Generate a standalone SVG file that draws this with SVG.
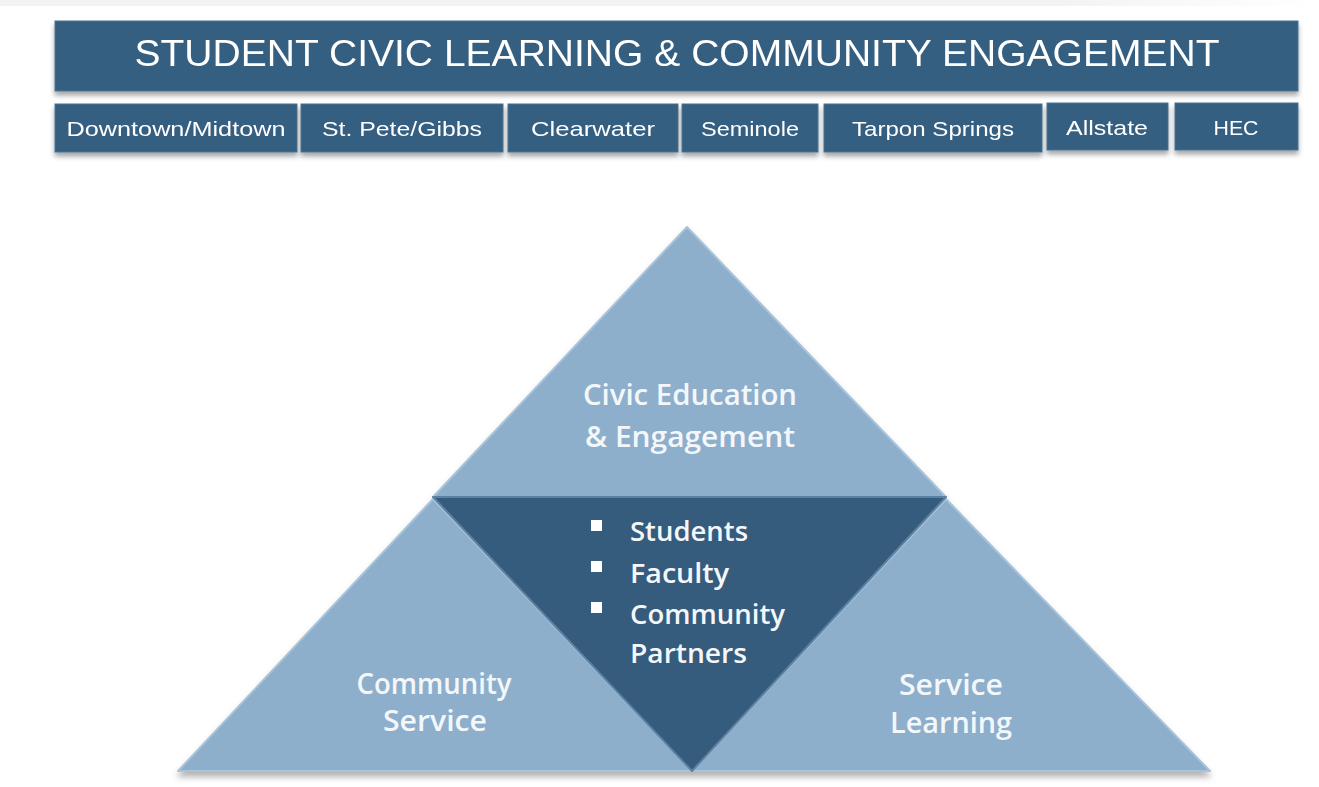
<svg xmlns="http://www.w3.org/2000/svg" width="1319" height="787" viewBox="0 0 1319 787">
<defs>
<filter id="sh" x="-5%" y="-20%" width="110%" height="150%">
<feDropShadow dx="0" dy="4" stdDeviation="2.5" flood-color="#000" flood-opacity="0.35"/>
</filter>
<filter id="tsh" x="-5%" y="-20%" width="110%" height="150%">
<feDropShadow dx="0" dy="5" stdDeviation="3" flood-color="#000" flood-opacity="0.3"/>
</filter>
<linearGradient id="topband" x1="0" y1="0" x2="1" y2="0">
<stop offset="0" stop-color="#F3F3F3"/>
<stop offset="0.8" stop-color="#F3F3F3"/>
<stop offset="1" stop-color="#FFFFFF"/>
</linearGradient>
</defs>
<style>
.box{fill:#365E80;stroke:#4A7090;stroke-width:1;}
.lbl{font-family:"Liberation Sans",Arial,sans-serif;font-size:21px;fill:#FFFFFF;text-anchor:middle;}
.title{font-family:"Liberation Sans",Arial,sans-serif;font-size:36px;fill:#FFFFFF;text-anchor:middle;}
.light{fill:#8EAFCB;stroke:#A8C3DA;stroke-width:2;stroke-linejoin:round;}
.dark{fill:#345B7C;stroke:#5C82A3;stroke-width:2;stroke-linejoin:round;}
.tt{font-family:"Open Sans","Liberation Sans",sans-serif;font-size:28px;font-weight:600;fill:#F4F7FA;text-anchor:middle;}
.bt{font-family:"Open Sans","Liberation Sans",sans-serif;font-size:27px;font-weight:600;fill:#F4F7FA;}
.blt{fill:#FFFFFF;}
</style>
<rect x="0" y="0" width="1319" height="787" fill="#FFFFFF"/>
<rect x="0" y="0" width="1319" height="6" fill="url(#topband)"/>

<g id="header" filter="url(#sh)">
<rect class="box" x="55" y="21" width="1243" height="70"/>
<text class="title" x="677" y="66" textLength="1085" lengthAdjust="spacingAndGlyphs">STUDENT CIVIC LEARNING &amp; COMMUNITY ENGAGEMENT</text>
</g>

<g id="campus-downtown" filter="url(#sh)">
<rect class="box" x="55" y="104" width="242" height="48"/>
<text class="lbl" x="176" y="136" textLength="219" lengthAdjust="spacingAndGlyphs">Downtown/Midtown</text>
</g>
<g id="campus-stpete" filter="url(#sh)">
<rect class="box" x="301" y="104" width="202" height="48"/>
<text class="lbl" x="402" y="136" textLength="160" lengthAdjust="spacingAndGlyphs">St. Pete/Gibbs</text>
</g>
<g id="campus-clearwater" filter="url(#sh)">
<rect class="box" x="508" y="104" width="170" height="48"/>
<text class="lbl" x="593" y="136" textLength="124" lengthAdjust="spacingAndGlyphs">Clearwater</text>
</g>
<g id="campus-seminole" filter="url(#sh)">
<rect class="box" x="682" y="104" width="136" height="48"/>
<text class="lbl" x="750" y="136" textLength="98" lengthAdjust="spacingAndGlyphs">Seminole</text>
</g>
<g id="campus-tarpon" filter="url(#sh)">
<rect class="box" x="824" y="104" width="218" height="48"/>
<text class="lbl" x="933" y="136" textLength="162" lengthAdjust="spacingAndGlyphs">Tarpon Springs</text>
</g>
<g id="campus-allstate" filter="url(#sh)">
<rect class="box" x="1047" y="103" width="121" height="47"/>
<text class="lbl" x="1107" y="135" textLength="82" lengthAdjust="spacingAndGlyphs">Allstate</text>
</g>
<g id="campus-hec" filter="url(#sh)">
<rect class="box" x="1175" y="103" width="123" height="47"/>
<text class="lbl" x="1236" y="135" textLength="45" lengthAdjust="spacingAndGlyphs">HEC</text>
</g>

<g id="pyramid" filter="url(#tsh)">
<polygon id="tri-left" class="light" points="178,771 433,499 692,771"/>
<polygon id="tri-right" class="light" points="692,771 946,499 1210,771"/>
<polygon id="tri-top" class="light" points="687,227 433,497 946,497"/>
<polygon id="tri-center" class="dark" points="433,497 946,497 692,771"/>
</g>

<g id="text-top">
<text class="tt" x="690" y="405" textLength="214" lengthAdjust="spacingAndGlyphs">Civic Education</text>
<text class="tt" x="690" y="447" textLength="210" lengthAdjust="spacingAndGlyphs">&amp; Engagement</text>
</g>
<g id="text-left">
<text class="tt" x="434" y="694" textLength="155" lengthAdjust="spacingAndGlyphs">Community</text>
<text class="tt" x="435" y="731" textLength="104" lengthAdjust="spacingAndGlyphs">Service</text>
</g>
<g id="text-right">
<text class="tt" x="951" y="695" textLength="104" lengthAdjust="spacingAndGlyphs">Service</text>
<text class="tt" x="951" y="733" textLength="122" lengthAdjust="spacingAndGlyphs">Learning</text>
</g>
<g id="text-center">
<rect class="blt" x="591" y="520" width="11" height="11"/>
<rect class="blt" x="591" y="561" width="11" height="11"/>
<rect class="blt" x="591" y="602" width="11" height="11"/>
<text class="bt" x="630" y="541" textLength="118" lengthAdjust="spacingAndGlyphs">Students</text>
<text class="bt" x="630" y="583" textLength="99" lengthAdjust="spacingAndGlyphs">Faculty</text>
<text class="bt" x="630" y="624" textLength="155" lengthAdjust="spacingAndGlyphs">Community</text>
<text class="bt" x="630" y="663" textLength="117" lengthAdjust="spacingAndGlyphs">Partners</text>
</g>
</svg>
